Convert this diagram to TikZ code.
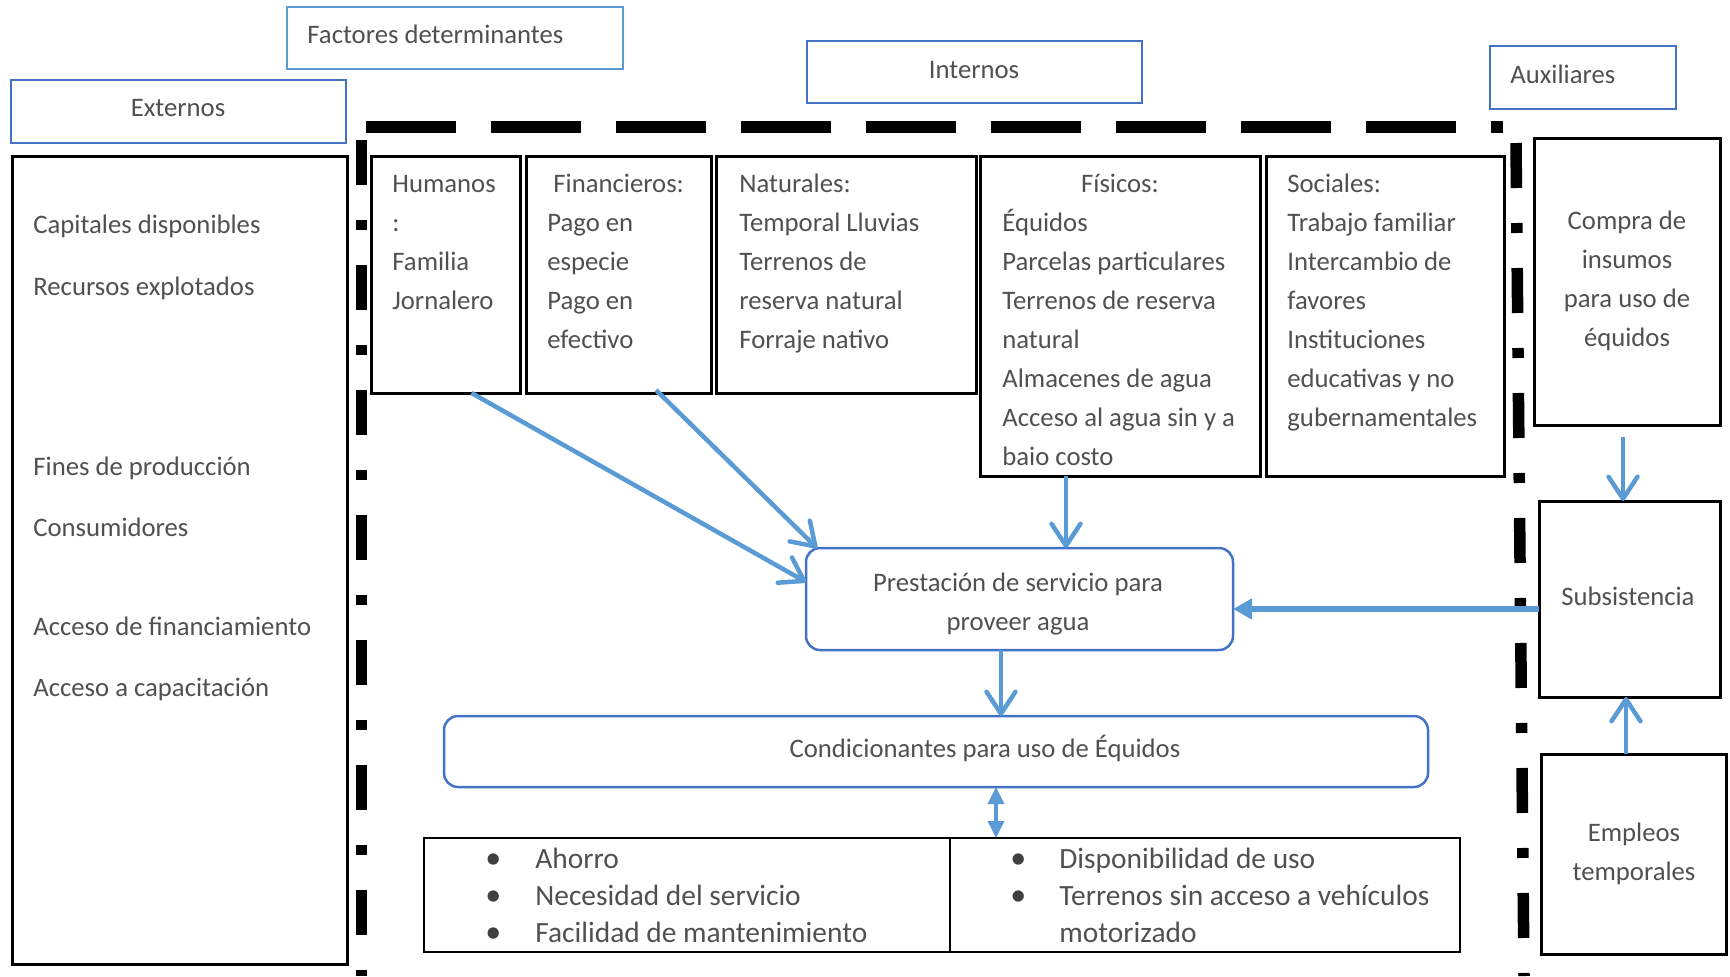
\documentclass[tikz,border=0pt]{standalone}
\usepackage{fontspec}
\setmainfont{Carlito}
\usetikzlibrary{arrows.meta,calc}
\definecolor{bblue}{HTML}{4472C4}
\definecolor{lblue}{HTML}{5B9BD5}
\definecolor{tgray}{HTML}{505050}
\begin{document}
\begin{tikzpicture}[x=0.5pt,y=-0.5pt,
  blk/.style={draw=black, line width=1.5pt, inner sep=0pt, outer sep=0pt, anchor=north west},
  hdr/.style={draw=bblue, line width=1.25pt, inner sep=0pt, outer sep=0pt, anchor=north west},
  hdrl/.style={hdr, draw=lblue},
  rbox/.style={draw=bblue, line width=1.25pt, rounded corners=7pt, inner sep=0pt, outer sep=0pt, anchor=north west},
  txt/.style={text=tgray, font=\fontsize{13.35}{19.5}\selectfont, inner sep=0pt, align=left, anchor=base west},
  ctxt/.style={txt, align=center, anchor=base},
  btxt/.style={txt, font=\fontsize{14.7}{18.5}\selectfont},
  bul/.style={txt, text=black!75, font=\fontsize{16}{18.5}\selectfont},
  arr/.style={draw=lblue, line width=2.25pt, -{Straight Barb[length=11pt,width=14.5pt,round]}},
  farr/.style={draw=lblue, line width=3pt, -{Triangle[length=9.5pt,width=10pt]}},
  darr/.style={draw=lblue, line width=1.75pt, {Triangle[length=8.5pt,width=8pt]}-{Triangle[length=8.5pt,width=8pt]}},
  dline/.style={line width=5.75pt, dash pattern=on 22.5pt off 17.5pt on 5pt off 17.5pt}
]
\useasboundingbox (0,0) rectangle (1730,976);

% header boxes
\node[hdrl, minimum width=168pt, minimum height=31pt] (fact) at (287,7) {};
\node[hdr, minimum width=167.5pt, minimum height=31.5pt] (ext) at (11,80) {};
\node[hdr, minimum width=167.5pt, minimum height=31pt] (intr) at (807,41) {};
\node[hdr, minimum width=93pt, minimum height=31.5pt] (aux) at (1490,46) {};
\node[txt] (factt) at (307,43) {Factores determinantes};
\node[ctxt] (extt) at (178,116) {Externos};
\node[ctxt] (intrt) at (974,78) {Internos};
\node[txt] (auxt) at (1510,83) {Auxiliares};

% dashed frame
\draw[line width=6pt, dash pattern=on 45pt off 17.5pt] (366,127) -- (1503,127);
\draw[dline] (361.5,140) -- (361.5,976);
\draw[dline] (1516,143) -- (1524,976);

% external list
\node[blk, minimum width=167.5pt, minimum height=404pt] (extl) at (12,156) {};
\node[txt] (e1) at (33,233) {Capitales disponibles};
\node[txt] (e2) at (33,295) {Recursos explotados};
\node[txt] (e3) at (33,475) {Fines de producción};
\node[txt] (e4) at (33,536) {Consumidores};
\node[txt] (e5) at (33,635) {Acceso de financiamiento};
\node[txt] (e6) at (33,696) {Acceso a capacitación};

% internal boxes
\node[blk, minimum width=74.5pt, minimum height=118.5pt] (hum) at (371,156) {};
\node[blk, minimum width=92.5pt, minimum height=118.5pt] (fin) at (526,156) {};
\node[blk, minimum width=130pt, minimum height=118.5pt] (nat) at (716,156) {};
\node[blk, minimum width=140pt, minimum height=160pt] (fis) at (980,156) {};
\node[blk, minimum width=119pt, minimum height=160pt] (soc) at (1266,156) {};
% multi-line nodes: base anchor = last line
\node[txt] (humt) at (392,309) {Humanos\\:\\Familia\\Jornalero};
\node[txt] (fint) at (547,348) {\hspace*{3pt}Financieros:\\Pago en\\especie\\Pago en\\efectivo};
\node[txt] (natt) at (739,348) {Naturales:\\Temporal Lluvias\\Terrenos de\\reserva natural\\Forraje nativo};
\node[ctxt] (fist) at (1120,192) {Físicos:};
\node[txt] (fisl) at (1002,465) {Équidos\\Parcelas particulares\\Terrenos de reserva\\natural\\Almacenes de agua\\Acceso al agua sin y a\\baio costo};
\node[txt] (soct) at (1287,426) {Sociales:\\Trabajo familiar\\Intercambio de\\favores\\Instituciones\\educativas y no\\gubernamentales};

% auxiliary boxes
\node[blk, minimum width=93pt, minimum height=143.5pt] (compra) at (1534,138) {};
\node[blk, minimum width=90.5pt, minimum height=98pt] (subs) at (1539,501) {};
\node[blk, minimum width=92.5pt, minimum height=100pt] (emp) at (1541,754) {};
\node[ctxt] (comprat) at (1627,346) {Compra de\\insumos\\para uso de\\équidos};
\node[ctxt] (subst) at (1628,605) {Subsistencia};
\node[ctxt] (empt) at (1634,880) {Empleos\\temporales};

% central boxes
\node[rbox, minimum width=213.5pt, minimum height=51pt] (pres) at (806,548) {};
\node[rbox, minimum width=492pt, minimum height=35.5pt] (cond) at (444,716) {};
\node[ctxt] (prest) at (1018,630) {Prestación de servicio para\\proveer agua};
\node[ctxt] (condt) at (985,757) {Condicionantes para uso de Équidos};

% table
\node[blk, line width=1.25pt, minimum width=263pt, minimum height=57pt] (tl) at (424,838) {};
\node[blk, line width=1.25pt, minimum width=255pt, minimum height=57pt] (tr) at (950,838) {};
\node[bul] (tlb) at (485,942) {•\\•\\•};
\node[btxt] (tlt) at (535,942) {Ahorro\\Necesidad del servicio\\Facilidad de mantenimiento};
\node[bul] (trb) at (1010,905) {•\\•};
\node[btxt] (trt) at (1059,942) {Disponibilidad de uso\\Terrenos sin acceso a vehículos\\motorizado};

% connectors
\draw[arr] ([xshift=13pt]hum.south) -- ([yshift=8.5pt]pres.west);
\draw[arr] ([xshift=18.75pt,yshift=1.5pt]fin.south) -- ([xshift=5.5pt]pres.north west);
\coordinate (fisout) at ([xshift=-27pt]fis.south);
\draw[arr] (fisout) -- (fisout |- pres.north);
\coordinate (presout) at ([xshift=-9.25pt]pres.south);
\draw[arr] (presout) -- (presout |- cond.north);
\coordinate (condout) at ([xshift=30pt]cond.south);
\draw[darr] (condout) -- (condout |- tl.north);
\coordinate (compraout) at ([xshift=-2pt,yshift=-6pt]compra.south);
\draw[arr] (compraout) -- (compraout |- subs.north);
\coordinate (subsout) at ([yshift=-5pt]subs.west);
\draw[farr] (subsout) -- (subsout -| pres.east);
\coordinate (empout) at ([xshift=-3.75pt]emp.north);
\draw[arr] (empout) -- (empout |- subs.south);
\end{tikzpicture}
\end{document}
